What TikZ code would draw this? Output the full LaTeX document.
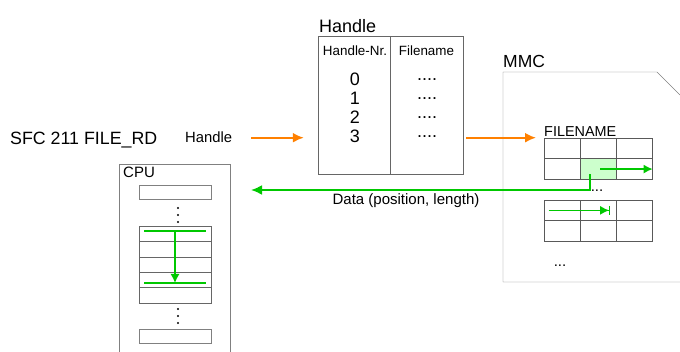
\documentclass[tikz,border=0pt]{standalone}
\usepackage{fontspec}
\setmainfont{Liberation Sans}
\usepackage{tikz}
\usetikzlibrary{positioning,calc}
\usetikzlibrary{arrows.meta}
\definecolor{orangepfeil}{RGB}{255,128,0}
\definecolor{gruenpfeil}{RGB}{0,200,0}
\definecolor{hellgruen}{RGB}{204,255,204}
\tikzstyle{baustein} = [rectangle, draw=gray, minimum width=72pt, minimum height=14pt, inner sep=0pt]
\tikzstyle{stapel} = [rectangle, draw=black!60, minimum width=72pt, minimum height=15.4pt, inner sep=0pt]
\tikzstyle{zelle} = [rectangle, draw=black!65, minimum width=36.2pt, minimum height=20.7pt, inner sep=0pt]
\tikzstyle{beschrift} = [inner sep=0pt, anchor=base west]
\tikzstyle{orangepf} = [line width=2pt, orangepfeil, -{Latex[length=11pt,width=10pt]}]
\tikzstyle{gruenpf} = [line width=2pt, gruenpfeil, -{Latex[length=11pt,width=10pt]}]
\tikzstyle{gruenduenn} = [line width=1.3pt, gruenpfeil]

\begin{document}
\begin{tikzpicture}[x=1pt,y=-1pt]
\clip (0,0) rectangle (680,352);
\node (sfc) at (10,145) [beschrift, font=\fontsize{17.8}{20}\selectfont] {SFC 211 FILE\_RD};
\node (hdl) at (185,143) [beschrift, font=\fontsize{14.8}{17}\selectfont] {Handle};
% Handle-Tabelle
\node (tab) at (390.5,105) [rectangle, draw=black!60, minimum width=145pt, minimum height=138pt, inner sep=0pt] {};
\draw[black!60] (tab.north) -- (tab.south);
\node (tabtitel) at (319,33) [beschrift, font=\fontsize{18}{20}\selectfont] {Handle};
\node (nrkopf) at (355,56) [beschrift, anchor=base, font=\fontsize{13.4}{15}\selectfont] {Handle-Nr.};
\node (namekopf) at (426.5,56) [beschrift, anchor=base, font=\fontsize{13.4}{15}\selectfont] {Filename};
\foreach \n/\y in {0/86,1/105,2/124,3/143} {
  \node (nr\n) at (355,\y) [beschrift, anchor=base, font=\fontsize{18}{20}\selectfont] {\n};
  \node (pkt\n) at (427,{\y-5.5}) [beschrift, anchor=base, font=\fontsize{18}{20}\selectfont] {....};
}
% MMC
\draw[gray] (680,95) -- (657,72) -- (503,72) -- (503,282) -- (690,282);
\node (mmc) at (503,68) [beschrift, font=\fontsize{17.5}{20}\selectfont] {MMC};
\node (fname) at (544,137) [beschrift, font=\fontsize{14.4}{17}\selectfont] {FILENAME};
\foreach \r in {0,1}
  \foreach \c in {0,1,2} {
    \node (a\r\c) at ({543.8+36.2*\c+18.1},{138+20.7*\r+10.35}) [zelle] {};
    \node (b\r\c) at ({543.8+36.2*\c+18.1},{200+20.7*\r+10.35}) [zelle] {};
  }
\node (a11) at (a11.center) [zelle, fill=hellgruen] {};
\draw[gruenduenn, -{Latex[length=9pt,width=9pt]}] ([xshift=2pt]a11.center) -- (a12.east);
\draw[gruenduenn, -{Latex[length=9pt,width=9pt]Bar[width=9pt]}] ([xshift=5pt]b00.west) -- ([xshift=-6pt]b01.east);
\node (weiter1) at (597,192) [beschrift, anchor=base, font=\fontsize{15}{17}\selectfont] {...};
\node (weiter2) at (560,267) [beschrift, anchor=base, font=\fontsize{15}{17}\selectfont] {...};
% CPU
\node (cpu) at (174.5,267) [rectangle, draw=gray, minimum width=111pt, minimum height=206pt, inner sep=0pt] {};
\node (cpulbl) at (123,178) [beschrift, font=\fontsize{15}{17}\selectfont] {CPU};
\node (c1) at (175,192) [baustein] {};
\foreach \i in {0,...,4}
  \node (s\i) at (175,{226+15.4*\i+7.7}) [stapel] {};
\node (c2) at (175,336) [baustein] {};
\foreach \y in {208,215,222,309,316,323}
  \fill (178,\y) circle (1.2pt);
\draw[gruenduenn] (144,231) -- (206,231);
\draw[gruenduenn] (144,283) -- (206,283);
\coordinate (zeig1) at (175,231);
\coordinate (zeig2) at (175,283);
\draw[gruenduenn, -{Latex[length=9pt,width=9pt]}] (zeig1) -- (zeig2);
% Pfeile
\coordinate (cpuein) at (251,190);
\draw[orangepf] ([xshift=19pt]hdl.east) -- ([xshift=-14pt]tab.west |- hdl.east);
\draw[orangepf] ([xshift=3pt]tab.east |- hdl.east) -- ([xshift=-8pt]fname.west |- hdl.east);
\draw[gruenpf] ([xshift=-8pt,yshift=-5pt]a11.center) |- (cpuein);
\node (daten) at (406,205) [beschrift, anchor=base, font=\fontsize{15}{17}\selectfont] {Data (position, length)};
\end{tikzpicture}
\end{document}
